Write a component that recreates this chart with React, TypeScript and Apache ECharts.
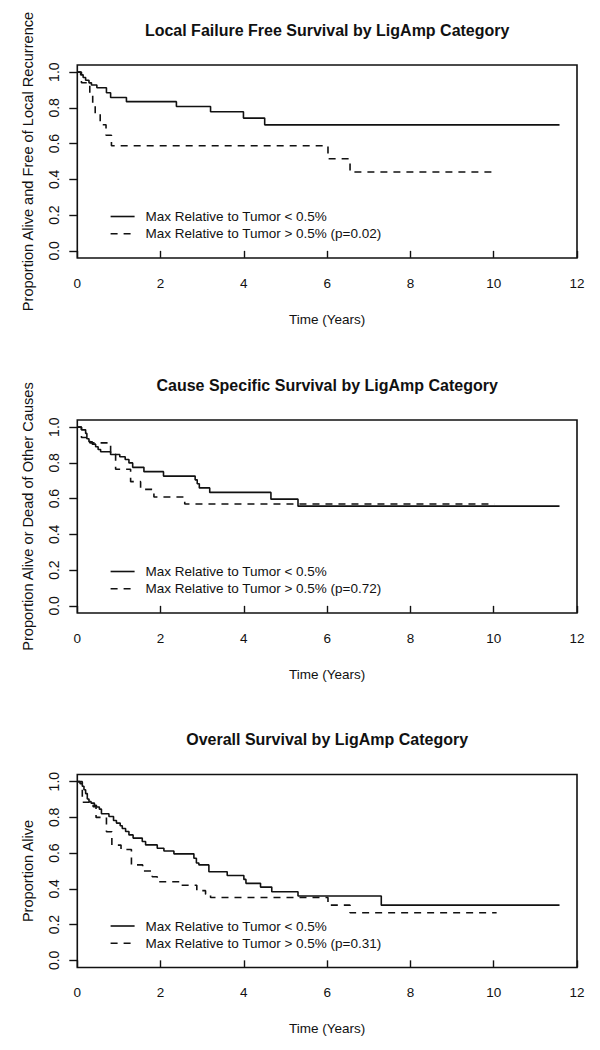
import React, { useEffect, useRef } from "react";
import * as echarts from "echarts";

// ---------- data ----------
const LOW_NAME = "Max Relative to Tumor < 0.5%";
const HIGH_NAMES = [
  "Max Relative to Tumor > 0.5% (p=0.02)",
  "Max Relative to Tumor > 0.5% (p=0.72)",
  "Max Relative to Tumor > 0.5% (p=0.31)",
];
const TITLES = [
  "Local Failure Free Survival by LigAmp Category",
  "Cause Specific Survival by LigAmp Category",
  "Overall Survival by LigAmp Category",
];
const Y_TITLES = [
  "Proportion Alive and Free of Local Recurrence",
  "Proportion Alive or Dead of Other Causes",
  "Proportion Alive",
];
const X_TITLE = "Time (Years)";
const Y_TICKS = [0, 0.2, 0.4, 0.6, 0.8, 1.0];

// Local failure free survival
const lfLowT = [0, 0.08, 0.14, 0.2, 0.28, 0.34, 0.47, 0.7, 0.8, 1.18, 2.38, 3.2, 3.99, 4.5, 11.58];
const lfLowS = [1, 0.985, 0.97, 0.955, 0.94, 0.928, 0.913, 0.885, 0.858, 0.835, 0.808, 0.778, 0.743, 0.705, 0.705];
const lfHighT = [0, 0.1, 0.3, 0.37, 0.43, 0.55, 0.69, 0.82, 6.02, 6.55, 10.07];
const lfHighS = [1, 0.941, 0.882, 0.824, 0.765, 0.706, 0.647, 0.588, 0.515, 0.441, 0.441];

// Cause specific survival
const csLowT = [0, 0.1, 0.2, 0.23, 0.28, 0.36, 0.44, 0.5, 0.56, 0.8, 1.02, 1.15, 1.24, 1.33, 1.6, 2.07, 2.83, 2.88, 2.93, 3.18, 4.65, 5.3, 11.58];
const csLowS = [1, 0.985, 0.965, 0.935, 0.918, 0.905, 0.89, 0.875, 0.862, 0.847, 0.834, 0.819, 0.8, 0.775, 0.751, 0.726, 0.705, 0.683, 0.66, 0.635, 0.597, 0.558, 0.558];
const csHighT = [0, 0.1, 0.3, 0.8, 0.92, 1.28, 1.52, 1.84, 2.58, 10.02];
const csHighS = [1, 0.942, 0.912, 0.85, 0.764, 0.695, 0.652, 0.609, 0.57, 0.57];

// Overall survival
const osLowT = [0, 0.065, 0.12, 0.16, 0.2, 0.24, 0.28, 0.33, 0.41, 0.46, 0.53, 0.58, 0.76, 0.87, 0.94, 1.03, 1.08, 1.16, 1.24, 1.34, 1.56, 1.64, 1.92, 2.08, 2.32, 2.8, 2.86, 2.92, 3.16, 3.6, 4.0, 4.05, 4.4, 4.67, 5.3, 7.3, 11.58];
const osLowS = [1, 0.989, 0.974, 0.955, 0.933, 0.903, 0.889, 0.88, 0.867, 0.858, 0.846, 0.82, 0.805, 0.783, 0.768, 0.753, 0.738, 0.721, 0.702, 0.684, 0.665, 0.646, 0.627, 0.612, 0.596, 0.571, 0.545, 0.534, 0.496, 0.475, 0.453, 0.431, 0.41, 0.384, 0.36, 0.309, 0.309];
const osHighT = [0, 0.12, 0.38, 0.45, 0.7, 0.83, 1.05, 1.3, 1.57, 1.8, 1.92, 2.5, 2.87, 3.08, 3.2, 6.02, 6.55, 10.07];
const osHighS = [1, 0.885, 0.86, 0.8, 0.72, 0.645, 0.62, 0.534, 0.5, 0.468, 0.44, 0.42, 0.39, 0.37, 0.352, 0.309, 0.266, 0.266];

const LOW_T = [lfLowT, csLowT, osLowT];
const LOW_S = [lfLowS, csLowS, osLowS];
const HIGH_T = [lfHighT, csHighT, osHighT];
const HIGH_S = [lfHighS, csHighS, osHighS];

// ---------- layout ----------
const GRID_LEFT = 77.3;
const GRID_WIDTH = 499.7;
const GRID_HEIGHT = 193;
const GRID_TOPS = [65, 420, 774.5];
const INK = "#111";
const FONT = "'Liberation Sans', Arial, Helvetica, sans-serif";

export default function App() {
  const ref = useRef<HTMLDivElement>(null);

  useEffect(() => {
    if (!ref.current) return;
    const chart = echarts.init(ref.current, null, { renderer: "svg" });

    const grids = GRID_TOPS.map((top) => ({
      left: GRID_LEFT,
      top,
      width: GRID_WIDTH,
      height: GRID_HEIGHT,
      show: true,
      borderColor: INK,
      borderWidth: 1.6,
      backgroundColor: "transparent",
      containLabel: false,
      outerBoundsMode: "none",
    }));

    const xAxes = GRID_TOPS.map((_, i) => ({
      type: "value",
      gridIndex: i,
      min: 0,
      max: 12,
      interval: 2,
      axisLine: { show: false },
      axisTick: { show: true, length: 7, lineStyle: { color: INK, width: 1.4 } },
      axisLabel: {
        color: INK,
        fontFamily: FONT,
        fontSize: 13.5,
        margin: 18,
        showMinLabel: true,
        showMaxLabel: true,
        hideOverlap: false,
        formatter: (v: number) => String(v),
      },
      splitLine: { show: false },
      name: X_TITLE,
      nameLocation: "middle",
      nameGap: 54,
      nameTextStyle: { color: INK, fontFamily: FONT, fontSize: 13.5 },
    }));

    const yAxes = GRID_TOPS.map((_, i) => ({
      type: "value",
      gridIndex: i,
      min: -0.04,
      max: 1.04,
      axisLine: { show: false },
      axisTick: { show: true, length: 8, customValues: Y_TICKS, lineStyle: { color: INK, width: 1.4 } },
      axisLabel: {
        customValues: Y_TICKS,
        rotate: 90,
        margin: 16,
        color: INK,
        fontFamily: FONT,
        fontSize: 14,
        formatter: (v: number) => v.toFixed(1),
      },
      splitLine: { show: false },
      name: Y_TITLES[i],
      nameLocation: "middle",
      nameGap: 42,
      nameTextStyle: { color: INK, fontFamily: FONT, fontSize: 14.6 },
    }));

    const titles = TITLES.map((t, i) => ({
      text: t,
      left: GRID_LEFT + GRID_WIDTH / 2,
      top: GRID_TOPS[i] - 35,
      textAlign: "center",
      textVerticalAlign: "middle",
      padding: 0,
      textStyle: { color: INK, fontFamily: FONT, fontWeight: "bold", fontSize: 16 },
    }));

    const legends = GRID_TOPS.map((top, i) => ({
      data: [LOW_NAME, HIGH_NAMES[i]],
      orient: "vertical",
      left: 109.8,
      top: top + 151 - 6.5,
      itemWidth: 24,
      itemHeight: 14,
      itemGap: 3.3,
      padding: 0,
      selectedMode: false,
      itemStyle: { opacity: 0, color: "transparent", borderWidth: 0 },
      lineStyle: { width: 1.6, color: INK },
      textStyle: { color: INK, fontFamily: FONT, fontSize: 13.5, padding: [0, 0, 0, 6] },
    }));

    const series: any[] = [];
    GRID_TOPS.forEach((_, i) => {
      series.push({
        type: "line",
        name: LOW_NAME,
        xAxisIndex: i,
        yAxisIndex: i,
        step: "end",
        symbol: "none",
        silent: true,
        lineStyle: { color: INK, width: 1.6, type: "solid" },
        itemStyle: { color: INK },
        data: LOW_T[i].map((t, k) => [t, LOW_S[i][k]]),
      });
      series.push({
        type: "line",
        name: HIGH_NAMES[i],
        xAxisIndex: i,
        yAxisIndex: i,
        step: "end",
        symbol: "none",
        silent: true,
        lineStyle: { color: INK, width: 1.6, type: [7, 6] },
        itemStyle: { color: INK },
        data: HIGH_T[i].map((t, k) => [t, HIGH_S[i][k]]),
      });
    });

    chart.setOption({
      animation: false,
      backgroundColor: "#fff",
      title: titles,
      legend: legends,
      grid: grids,
      xAxis: xAxes,
      yAxis: yAxes,
      series,
    });

    return () => chart.dispose();
  }, []);

  return <div ref={ref} style={{ position: "absolute", left: 0, top: 0, width: 600, height: 1050 }} />;
}
